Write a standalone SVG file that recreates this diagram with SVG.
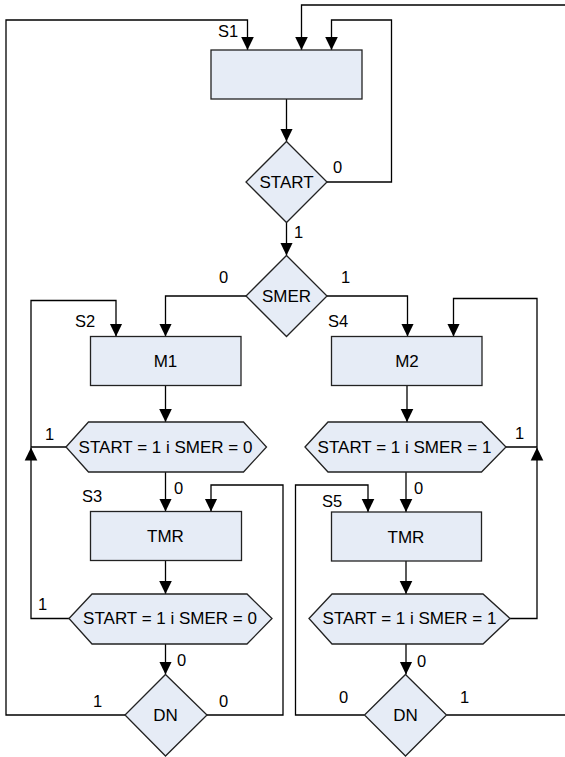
<svg xmlns="http://www.w3.org/2000/svg" width="565" height="757" viewBox="0 0 565 757">
<style>
.n{fill:#e6ecf6;stroke:#222;stroke-width:1.3}
.c{fill:none;stroke:#000;stroke-width:1.3}
.a{marker-end:url(#arr)}
text{font-family:"Liberation Sans",Arial,sans-serif;font-size:16.5px;fill:#000}
.m{text-anchor:middle;font-size:17px}
</style>
<defs>
<marker id="arr" markerUnits="userSpaceOnUse" markerWidth="14" markerHeight="14" viewBox="0 0 14 14" refX="13" refY="7" orient="auto">
<path d="M0,0.7 L13,7 L0,13.3 Z" fill="#000"/>
</marker>
</defs>
<rect width="565" height="757" fill="#fff"/>
<g id="connectors">
<path class="c a" d="M286.5,99 V141.5"/>
<path class="c a" d="M327,182 H391.5 V20 H331.5 V50"/>
<path class="c a" d="M566,5 H301.5 V50"/>
<path class="c a" d="M125,715 H6 V20 H247.5 V50"/>
<path class="c a" d="M286.5,222.5 V255.5"/>
<path class="c a" d="M246,296 H165.5 V336.5"/>
<path class="c a" d="M327,296 H407.5 V336.5"/>
<path class="c a" d="M165.5,385.5 V422"/>
<path class="c a" d="M407,385.5 V422"/>
<path class="c a" d="M66,447 H31 V300.5 H116 V336.5"/>
<path class="c a" d="M69,618.5 H31 V447.5"/>
<path class="c a" d="M506,447 H537 V298.5 H453.5 V336.5"/>
<path class="c a" d="M510,618.5 H537 V447.5"/>
<path class="c a" d="M165.5,472 V511.5"/>
<path class="c a" d="M406,472 V512"/>
<path class="c a" d="M165.5,560.5 V594"/>
<path class="c a" d="M406,561 V594"/>
<path class="c a" d="M165.5,644 V674.5"/>
<path class="c a" d="M406,644 V674.5"/>
<path class="c a" d="M207,715 H283 V485 H211 V511.5"/>
<path class="c a" d="M364.5,715 H295.5 V485 H368 V512"/>
<path class="c" d="M446.5,715 H566"/>
<text x="218" y="37">S1</text>
<text x="333" y="173">0</text>
<text x="294" y="238">1</text>
<text x="219" y="283">0</text>
<text x="341" y="283">1</text>
<text x="75" y="327">S2</text>
<text x="328" y="327">S4</text>
<text x="45" y="440">1</text>
<text x="515" y="439">1</text>
<text x="174" y="494">0</text>
<text x="414" y="493.5">0</text>
<text x="82" y="501.5">S3</text>
<text x="322" y="506.5">S5</text>
<text x="38" y="610">1</text>
<text x="177" y="665.5">0</text>
<text x="417" y="666.5">0</text>
<text x="93" y="706.5">1</text>
<text x="219" y="706.5">0</text>
<text x="339" y="702.5">0</text>
<text x="460" y="702.5">1</text>
</g>
<g id="s1">
<rect class="n" x="211" y="50" width="151" height="49"/>
</g>
<g id="start">
<polygon class="n" points="286.5,141.5 327,182 286.5,222.5 246,182"/>
<text class="m" x="286.5" y="188">START</text>
</g>
<g id="smer">
<polygon class="n" points="286.5,255.5 327,296 286.5,336.5 246,296"/>
<text class="m" x="286.5" y="301.5">SMER</text>
</g>
<g id="m1">
<rect class="n" x="90.5" y="336.5" width="150.5" height="49"/>
<text class="m" x="165.5" y="367">M1</text>
</g>
<g id="m2">
<rect class="n" x="331.5" y="336.5" width="150.5" height="49"/>
<text class="m" x="407" y="367">M2</text>
</g>
<g id="cond1">
<polygon class="n" points="66,447 88.5,422 243.5,422 266.5,447 243.5,472 88.5,472"/>
<text class="m" x="165.5" y="453">START = 1 i SMER = 0</text>
</g>
<g id="cond2">
<polygon class="n" points="305,447 328,422 481.5,422 506,447 481.5,472 328,472"/>
<text class="m" x="404.5" y="453">START = 1 i SMER = 1</text>
</g>
<g id="tmr1">
<rect class="n" x="90.5" y="511.5" width="151" height="49"/>
<text class="m" x="165.5" y="541.5">TMR</text>
</g>
<g id="tmr2">
<rect class="n" x="331.5" y="512" width="150" height="49"/>
<text class="m" x="406" y="542.5">TMR</text>
</g>
<g id="cond3">
<polygon class="n" points="69,618.5 92,594 247,594 272,618.5 247,644 92,644"/>
<text class="m" x="170" y="624">START = 1 i SMER = 0</text>
</g>
<g id="cond4">
<polygon class="n" points="309,618.5 332,594 483,594 510,618.5 483,644 332,644"/>
<text class="m" x="409.5" y="624">START = 1 i SMER = 1</text>
</g>
<g id="dn1">
<polygon class="n" points="165.5,674.5 207,715 165.5,756 125,715"/>
<text class="m" x="165.5" y="721">DN</text>
</g>
<g id="dn2">
<polygon class="n" points="405.5,674.5 446.5,715 405.5,756 364.5,715"/>
<text class="m" x="405.5" y="721">DN</text>
</g>
</svg>
